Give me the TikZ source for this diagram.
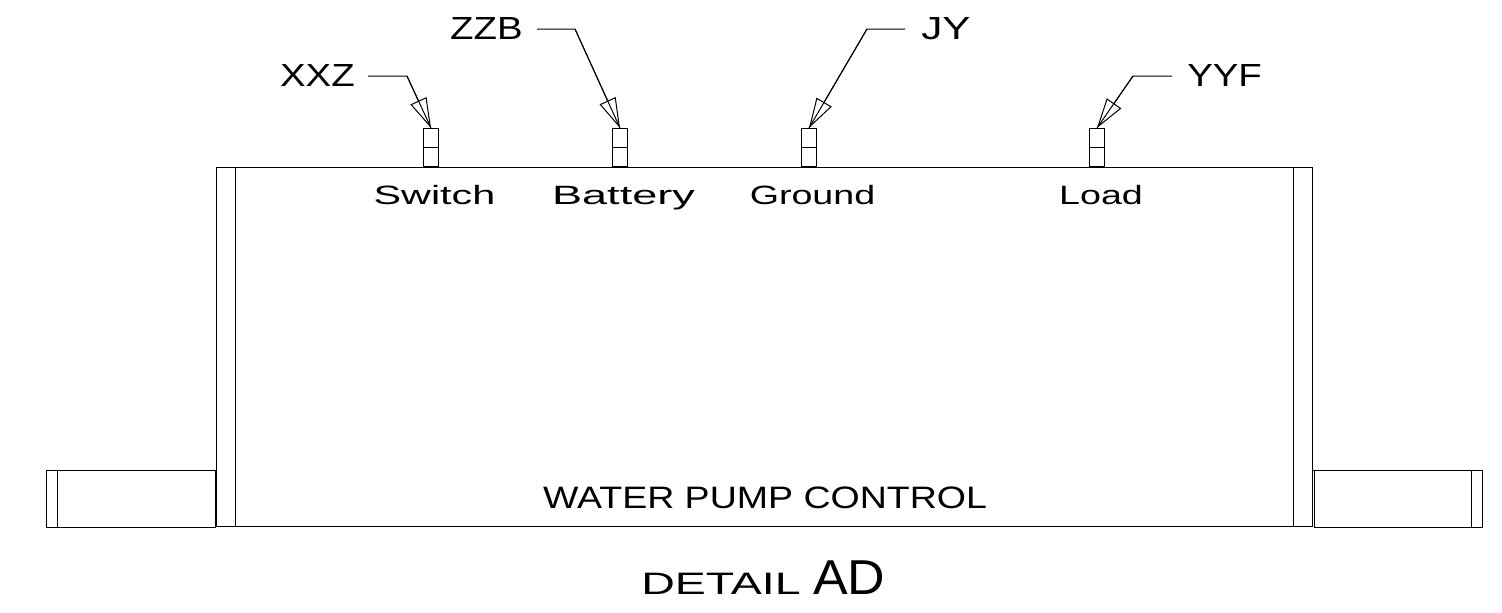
\documentclass[tikz,border=0pt]{standalone}
\usepackage{fontspec}
\setmainfont{Liberation Sans}
\usetikzlibrary{arrows.meta, positioning}
\tikzstyle{outline} = [rectangle, draw=black, line width=1pt, inner sep=0pt, anchor=north west]
\tikzstyle{pin} = [outline, minimum width=14.5pt, minimum height=38pt, anchor=south]
\tikzstyle{callout} = [font=\fontsize{32}{32}\selectfont, xscale=1.2, inner sep=0pt]
\tikzstyle{terminal} = [font=\fontsize{26.5}{26.5}\selectfont, inner sep=0pt, anchor=base]
\tikzstyle{leader} = [line width=1pt]
\tikzstyle{arrow} = [line width=1pt,-{Triangle[open,length=30pt,width=17.5pt]}]

\begin{document}
\begin{tikzpicture}[x=1pt,y=-1pt]
\useasboundingbox (0,0) rectangle (1502,613);

\node (body) [outline, minimum width=1096pt, minimum height=359pt] at (216,167) {};
\node (lflange) [outline, minimum width=168.5pt, minimum height=56.5pt] at (46,470) {};
\node (rflange) [outline, minimum width=168pt, minimum height=56.5pt] at (1314,470) {};
\draw [leader] (235,167) -- (235,526);
\draw [leader] (1293,167) -- (1293,526);
\draw [leader] (1312,470) -- (1314,470);
\draw [leader] (57,470) -- (57,526.5);
\draw [leader] (1471,470) -- (1471,526.5);

\node (pinxxz) [pin] at (431,167) {};
\node (pinzzb) [pin] at (620,167) {};
\node (pinjy) [pin] at (809,167) {};
\node (pinyyf) [pin] at (1097,167) {};
\draw [leader] (pinxxz.west) -- (pinxxz.east);
\draw [leader] (pinzzb.west) -- (pinzzb.east);
\draw [leader] (pinjy.west) -- (pinjy.east);
\draw [leader] (pinyyf.west) -- (pinyyf.east);

\node (switch) [terminal, xscale=1.56] at (434.5,204) {Switch};
\node (battery) [terminal, xscale=1.7] at (623.5,204) {Battery};
\node (ground) [terminal, xscale=1.42] at (812.5,204) {Ground};
\node (load) [terminal, xscale=1.42] at (1101,204) {Load};

\node (xxz) [callout, anchor=base east] at (355,86) {XXZ};
\node (zzb) [callout, anchor=base east] at (523,39) {ZZB};
\node (jy) [callout, xscale=1.1, anchor=base west] at (921,39) {JY};
\node (yyf) [callout, anchor=base west] at (1187,86) {YYF};

\coordinate (xxzbend) at (407,76);
\coordinate (zzbbend) at (575,29);
\coordinate (jybend) at (867,29);
\coordinate (yyfbend) at (1133,76);

\draw [leader] (368,76) -- (xxzbend) -- (pinxxz.north);
\draw [leader] (537,29) -- (zzbbend) -- (pinzzb.north);
\draw [leader] (905,29) -- (jybend) -- (pinjy.north);
\draw [leader] (1172,76) -- (yyfbend) -- (pinyyf.north);
\draw [arrow] (xxzbend) -- (pinxxz.north);
\draw [arrow] (zzbbend) -- (pinzzb.north);
\draw [arrow] (jybend) -- (pinjy.north);
\draw [arrow] (yyfbend) -- (pinyyf.north);

\node (title) [font=\fontsize{31}{31}\selectfont, xscale=1.21, inner sep=0pt, anchor=base] at (765,508) {WATER PUMP CONTROL};
\node (detail) [font=\fontsize{31}{31}\selectfont, xscale=1.5, inner sep=0pt, anchor=base west] at (641,594) {DETAIL};
\node (ad) [font=\fontsize{49}{49}\selectfont, xscale=1.06, inner sep=0pt, anchor=base west] at (813,594) {AD};
\end{tikzpicture}
\end{document}
